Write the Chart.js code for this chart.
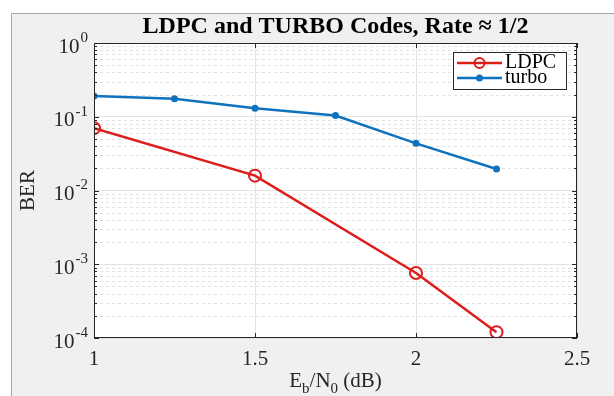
<!DOCTYPE html>
<html>
<head>
<meta charset="utf-8">
<script src="https://cdn.jsdelivr.net/npm/chart.js@4"></script>
<style>
  html, body { margin: 0; padding: 0; background: #ffffff; }
  #wrap { width: 614px; height: 396px; }
</style>
</head>
<body>
<div id="wrap"><canvas id="berChart" width="614" height="396"></canvas></div>
<script>
// Data
const ldpcX = [1, 1.5, 2, 2.25];
const ldpcBer = [0.070, 0.0159, 0.00076, 0.00012];
const turboX = [1, 1.25, 1.5, 1.75, 2, 2.25];
const turboBer = [0.191, 0.176, 0.130, 0.104, 0.0436, 0.0196];
const xTicks = [1, 1.5, 2, 2.5];
const xTickLabels = ['1', '1.5', '2', '2.5'];
const yExponents = [-4, -3, -2, -1, 0];

const SERIF = '"Liberation Serif", "DejaVu Serif", serif';
const RED = '#dd1c1c';
const BLUE = '#0f72bd';

// Draw "10" with a superscript, right aligned
function drawPow(ctx, exp, xRight, y) {
  ctx.save();
  ctx.fillStyle = '#262626';
  ctx.textBaseline = 'middle';
  ctx.font = '15px ' + SERIF;
  const expText = String(exp);
  const ew = ctx.measureText(expText).width;
  ctx.textAlign = 'left';
  ctx.fillText(expText, xRight - ew, y - 5);
  ctx.font = '21px ' + SERIF;
  ctx.textAlign = 'right';
  ctx.fillText('10', xRight - ew - 1, y + 4);
  ctx.restore();
}

// Background, minor grid, box, labels and legend
const figurePlugin = {
  id: 'figure',
  beforeDraw(chart) {
    const ctx = chart.ctx;
    const a = chart.chartArea;
    ctx.save();
    ctx.fillStyle = '#ffffff';
    ctx.fillRect(0, 0, chart.width, chart.height);
    ctx.fillStyle = '#f0f0f0';
    ctx.fillRect(11, 13, chart.width - 11, chart.height - 13);
    ctx.strokeStyle = '#a8a8a8';
    ctx.lineWidth = 1;
    ctx.beginPath();
    ctx.moveTo(11.5, chart.height);
    ctx.lineTo(11.5, 13.5);
    ctx.lineTo(chart.width, 13.5);
    ctx.stroke();
    ctx.fillStyle = '#ffffff';
    ctx.fillRect(a.left, a.top, a.right - a.left, a.bottom - a.top);

    // minor dotted grid on the log axis
    const ys = chart.scales.y;
    ctx.strokeStyle = '#e2e2e2';
    ctx.setLineDash([3, 3]);
    yExponents.slice(0, -1).forEach(e => {
      for (let m = 2; m <= 9; m++) {
        const py = Math.round(ys.getPixelForValue(m * Math.pow(10, e))) + 0.5;
        ctx.beginPath();
        ctx.moveTo(a.left, py);
        ctx.lineTo(a.right, py);
        ctx.stroke();
      }
    });
    ctx.restore();
  },
  afterDatasetsDraw(chart) {
    const ctx = chart.ctx;
    const a = chart.chartArea;
    const xs = chart.scales.x;
    const ys = chart.scales.y;
    ctx.save();

    // axes box and tick marks
    ctx.strokeStyle = '#262626';
    ctx.lineWidth = 1;
    ctx.strokeRect(Math.round(a.left) + 0.5, Math.round(a.top) + 0.5,
      Math.round(a.right - a.left) - 1, Math.round(a.bottom - a.top) - 1);
    ctx.beginPath();
    xTicks.forEach(v => {
      const px = Math.round(xs.getPixelForValue(v)) + 0.5;
      ctx.moveTo(px, a.bottom); ctx.lineTo(px, a.bottom - 5);
      ctx.moveTo(px, a.top); ctx.lineTo(px, a.top + 5);
    });
    yExponents.forEach((e, i) => {
      const py = Math.round(ys.getPixelForValue(Math.pow(10, e))) + 0.5;
      ctx.moveTo(a.left, py); ctx.lineTo(a.left + 5, py);
      ctx.moveTo(a.right, py); ctx.lineTo(a.right - 5, py);
      if (i < yExponents.length - 1) {
        for (let m = 2; m <= 9; m++) {
          const q = Math.round(ys.getPixelForValue(m * Math.pow(10, e))) + 0.5;
          ctx.moveTo(a.left, q); ctx.lineTo(a.left + 3, q);
          ctx.moveTo(a.right, q); ctx.lineTo(a.right - 3, q);
        }
      }
    });
    ctx.stroke();

    // tick labels
    ctx.fillStyle = '#262626';
    ctx.font = '21px ' + SERIF;
    ctx.textAlign = 'center';
    ctx.textBaseline = 'middle';
    xTicks.forEach((v, i) => {
      ctx.fillText(xTickLabels[i], xs.getPixelForValue(v), a.bottom + 21);
    });
    yExponents.forEach(e => {
      drawPow(ctx, e, a.left - 6, ys.getPixelForValue(Math.pow(10, e)));
    });

    // y title
    ctx.save();
    ctx.translate(28, (a.top + a.bottom) / 2);
    ctx.rotate(-Math.PI / 2);
    ctx.textAlign = 'center';
    ctx.fillText('BER', 0, 0);
    ctx.restore();

    // x title with subscripts
    const cx = (a.left + a.right) / 2;
    const parts = [['E', 0, 21], ['b', 6, 15], ['/N', 0, 21], ['0', 6, 15], [' (dB)', 0, 21]];
    let total = 0;
    parts.forEach(p => { ctx.font = p[2] + 'px ' + SERIF; total += ctx.measureText(p[0]).width; });
    let px = cx - total / 2;
    ctx.textAlign = 'left';
    ctx.textBaseline = 'alphabetic';
    parts.forEach(p => {
      ctx.font = p[2] + 'px ' + SERIF;
      ctx.fillText(p[0], px, 387 + p[1]);
      px += ctx.measureText(p[0]).width;
    });

    // title
    ctx.font = 'bold 24px ' + SERIF;
    ctx.textAlign = 'center';
    ctx.textBaseline = 'middle';
    ctx.fillStyle = '#000000';
    ctx.fillText('LDPC and TURBO Codes, Rate \u2248 1/2', cx, 27);

    // legend
    const lx = 453, ly = 52, lw = 113, lh = 37;
    ctx.fillStyle = '#ffffff';
    ctx.fillRect(lx, ly, lw, lh);
    ctx.strokeStyle = '#262626';
    ctx.strokeRect(lx + 0.5, ly + 0.5, lw, lh);
    const rows = [
      { label: 'LDPC', color: RED, y: 63, open: true },
      { label: 'turbo', color: BLUE, y: 78, open: false }
    ];
    rows.forEach(r => {
      ctx.strokeStyle = r.color;
      ctx.lineWidth = 2.5;
      ctx.beginPath();
      ctx.moveTo(457, r.y); ctx.lineTo(502, r.y);
      ctx.stroke();
      ctx.beginPath();
      if (r.open) {
        ctx.lineWidth = 2;
        ctx.arc(479.5, r.y, 5, 0, Math.PI * 2);
        ctx.stroke();
      } else {
        ctx.fillStyle = r.color;
        ctx.arc(479.5, r.y, 3.5, 0, Math.PI * 2);
        ctx.fill();
      }
      ctx.fillStyle = '#000000';
      ctx.font = '20px ' + SERIF;
      ctx.textAlign = 'left';
      ctx.textBaseline = 'middle';
      ctx.fillText(r.label, 505, r.y);
    });
    ctx.restore();
  }
};

const ctx = document.getElementById('berChart').getContext('2d');
new Chart(ctx, {
  type: 'line',
  data: {
    datasets: [
      {
        label: 'LDPC',
        data: ldpcX.map((x, i) => ({ x: x, y: ldpcBer[i] })),
        borderColor: RED,
        borderWidth: 2.5,
        pointStyle: 'circle',
        pointRadius: 6,
        pointBorderWidth: 2,
        pointBorderColor: RED,
        pointBackgroundColor: 'rgba(0,0,0,0)',
        tension: 0,
        fill: false
      },
      {
        label: 'turbo',
        data: turboX.map((x, i) => ({ x: x, y: turboBer[i] })),
        borderColor: BLUE,
        borderWidth: 2.5,
        pointRadius: 3.5,
        pointBorderWidth: 0,
        pointBackgroundColor: BLUE,
        tension: 0,
        fill: false
      }
    ]
  },
  options: {
    responsive: false,
    animation: false,
    devicePixelRatio: 1,
    layout: { padding: { left: 94, right: 37, top: 43, bottom: 58 } },
    plugins: {
      legend: { display: false },
      tooltip: { enabled: false },
      title: { display: false }
    },
    scales: {
      x: {
        type: 'linear',
        min: 1,
        max: 2.5,
        afterBuildTicks: s => { s.ticks = xTicks.map(v => ({ value: v })); },
        ticks: { display: false },
        grid: { color: '#e3e3e3', drawTicks: false },
        border: { display: false }
      },
      y: {
        type: 'logarithmic',
        min: 1e-4,
        max: 1,
        afterBuildTicks: s => { s.ticks = yExponents.map(e => ({ value: Math.pow(10, e) })); },
        ticks: { display: false },
        grid: { color: '#e3e3e3', drawTicks: false },
        border: { display: false }
      }
    }
  },
  plugins: [figurePlugin]
});
</script>
</body>
</html>
